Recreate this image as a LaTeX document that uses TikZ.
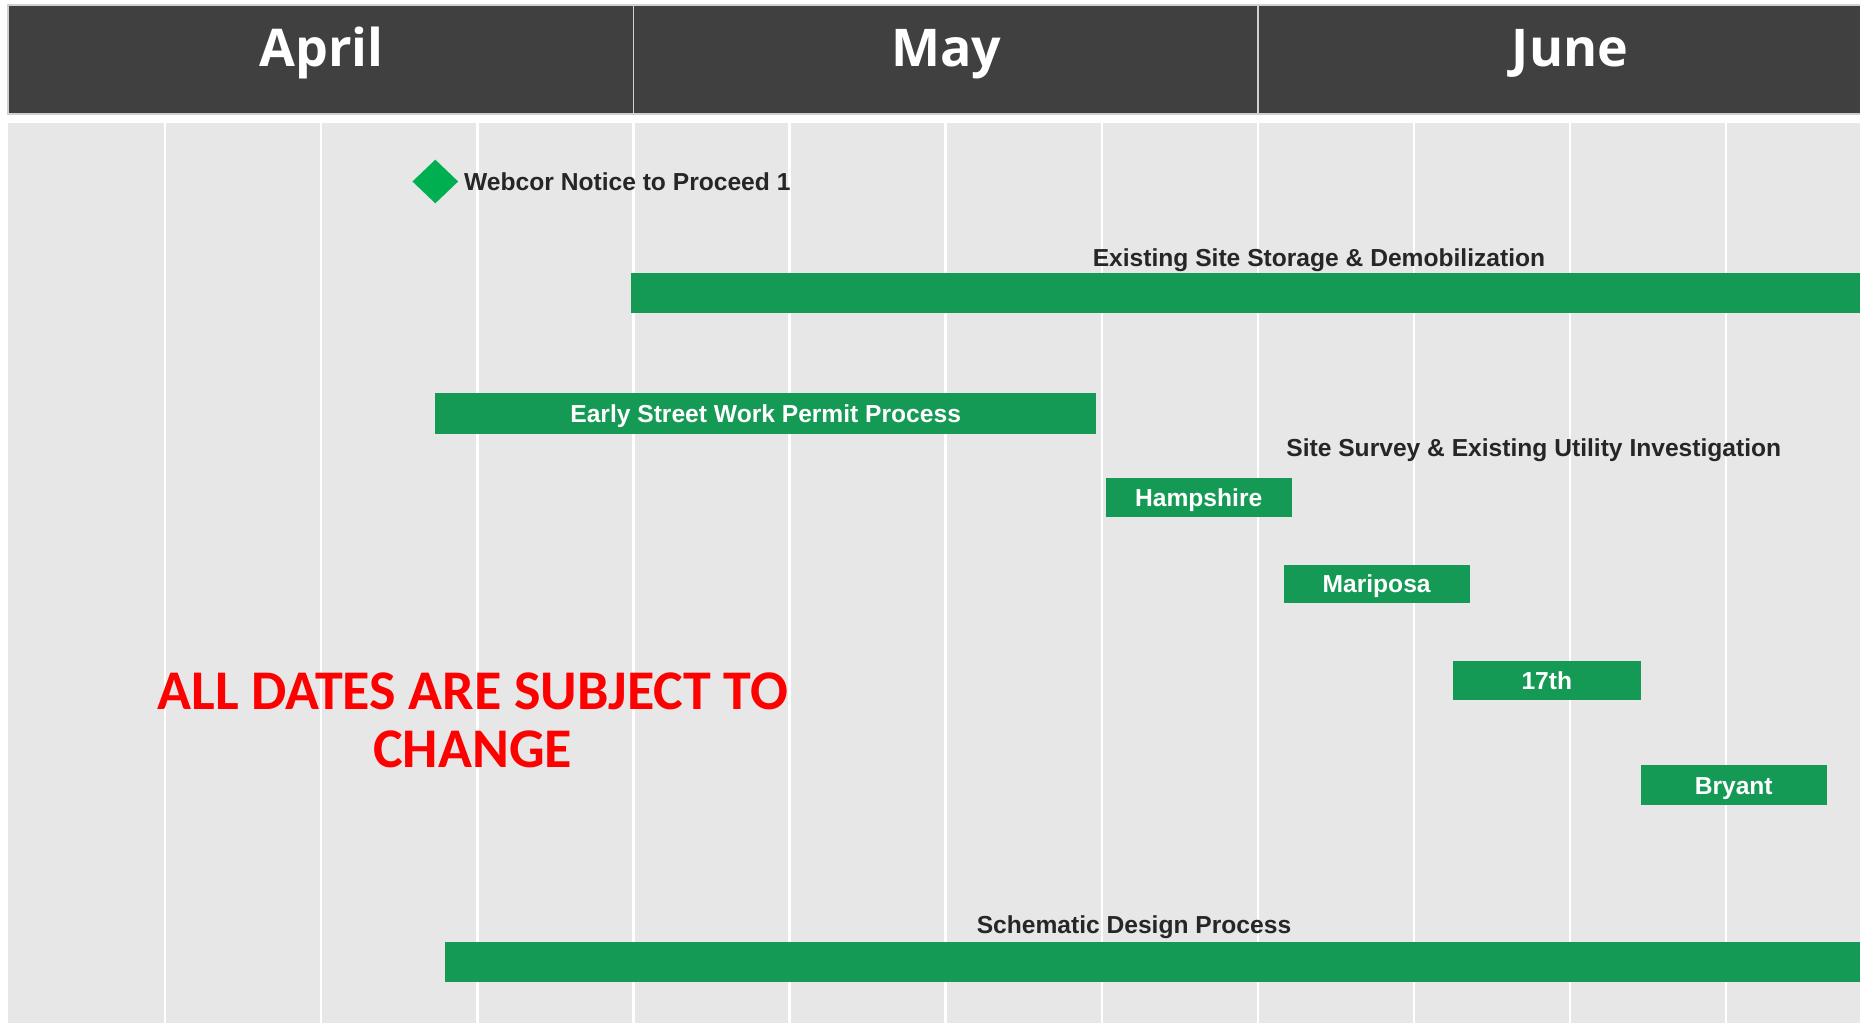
\documentclass[tikz,border=0pt]{standalone}
\usepackage{fontspec}
\setmainfont{Liberation Sans}
\newfontfamily\hdrfont{Open Sans}
\newfontfamily\warnfont{Carlito}
\usetikzlibrary{shapes.geometric}
\definecolor{hdrgray}{HTML}{404040}
\definecolor{bggray}{HTML}{E7E7E7}
\definecolor{bargreen}{HTML}{159A55}
\definecolor{diagreen}{HTML}{00B050}
\definecolor{txtdark}{HTML}{262626}
\definecolor{warnred}{HTML}{FF0000}
\definecolor{divgray}{HTML}{D0D0D0}
\tikzset{
  month/.style={text=white, font=\hdrfont\bfseries\fontsize{26}{30}\selectfont, anchor=base, inner sep=0pt},
  taskbar/.style={fill=bargreen, draw=none, text=white, font=\bfseries\fontsize{12.3}{14}\selectfont, inner sep=0pt, text height=8.9pt, text depth=0pt},
  tasklabel/.style={text=txtdark, font=\bfseries\fontsize{12.3}{14}\selectfont, inner sep=0pt, text height=8.9pt, text depth=0pt},
  milestone/.style={diamond, fill=diagreen, draw=none, inner sep=0pt, minimum width=23pt, minimum height=22pt},
  warning/.style={text=warnred, font=\warnfont\bfseries\fontsize{28}{29}\selectfont, align=center, inner sep=0pt},
  gridline/.style={white, line width=1.2pt},
}
\begin{document}
\begin{tikzpicture}[x=0.5pt,y=-0.5pt]
\useasboundingbox (0,0) rectangle (1860,1023);
\fill[white] (0,0) rectangle (1860,1023);
% header
\fill[hdrgray] (8,5) rectangle (1860,114);
\draw[divgray, line width=0.6pt] (8,5) rectangle (1862,114);
\draw[divgray, line width=0.8pt] (633.4,5) -- (633.4,114);
\draw[divgray, line width=0.8pt] (1257.8,5) -- (1257.8,114);
\node[month] (apr) at (321.4,66.5) {April};
\node[month] (may) at (946.5,66.5) {May};
\node[month] (jun) at (1570,66.5) {June};
% body
\fill[bggray] (8,123.4) rectangle (1860,1023);
\foreach \k in {1,...,11} {
  \draw[gridline] ({9+156.1*\k},123.4) -- ({9+156.1*\k},1023);
}
% milestone
\node[milestone] (ntp) at (435.3,181.5) {};
\node[tasklabel, anchor=west] (ntplbl) at (463.8,181.5) {Webcor Notice to Proceed 1};
% existing site storage
\node[tasklabel] (storlbl) at (1319,257.4) {Existing Site Storage \& Demobilization};
\node[taskbar, minimum width=614.5pt, minimum height=20.2pt] (stor) at (1245.5,293) {};
% early street work
\node[taskbar, minimum width=330.35pt, minimum height=20.2pt] (early) at (765.7,413.5) {Early Street Work Permit Process};
% site survey
\node[tasklabel] (survlbl) at (1533.8,447.2) {Site Survey \& Existing Utility Investigation};
\node[taskbar, minimum width=93.15pt, minimum height=19.5pt] (hamp) at (1198.7,497.5) {Hampshire};
\node[taskbar, minimum width=93.1pt, minimum height=19pt] (mari) at (1376.6,583.6) {Mariposa};
\node[taskbar, minimum width=93.75pt, minimum height=19.6pt] (seven) at (1546.8,680.3) {17th};
\node[taskbar, minimum width=93.15pt, minimum height=20.2pt] (bry) at (1733.7,785.2) {Bryant};
% schematic design
\node[tasklabel] (schlbl) at (1134,924.5) {Schematic Design Process};
\node[taskbar, minimum width=707.6pt, minimum height=20.15pt] (sch) at (1152.4,962) {};
% warning
\node[warning] (warn) at (472.7,720) {ALL DATES ARE SUBJECT TO\\CHANGE};
\end{tikzpicture}
\end{document}
